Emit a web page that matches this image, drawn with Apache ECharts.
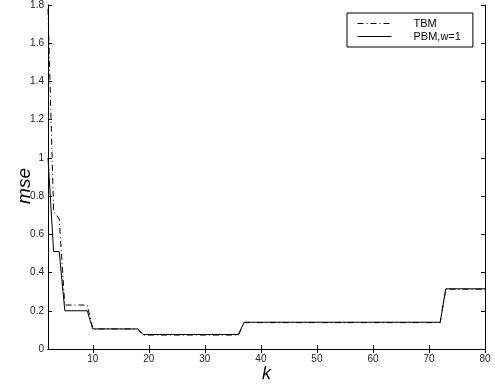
<!DOCTYPE html>
<html>
<head>
<meta charset="utf-8">
<script src="https://cdn.jsdelivr.net/npm/echarts@6/dist/echarts.min.js"></script>
<style>
  html, body { margin: 0; padding: 0; background: #fff; }
  #chart { width: 495px; height: 385px; }
</style>
</head>
<body>
<div id="chart"></div>
<script>
// breakpoints of k where the curves change level
const kValues = [2, 3, 4, 5, 9, 10, 18, 19, 36, 37, 72, 73, 80];
const tbmValues = [1.78, 0.72, 0.68, 0.23, 0.23, 0.105, 0.105, 0.073, 0.073, 0.138, 0.138, 0.313, 0.313];
const pbmValues = [1.0, 0.51, 0.51, 0.2, 0.2, 0.105, 0.105, 0.076, 0.076, 0.14, 0.14, 0.315, 0.315];
const xTicks = [10, 20, 30, 40, 50, 60, 70, 80];

const chart = echarts.init(document.getElementById('chart'));

const pairs = (ys) => kValues.map((k, i) => [k, ys[i]]);

const axisFont = { color: '#222', fontSize: 10, fontFamily: 'Liberation Sans, Arial, sans-serif' };
const tickStyle = { show: true, inside: true, length: 4, lineStyle: { color: '#000' } };

const option = {
  animation: false,
  backgroundColor: '#fff',
  grid: { left: 48, right: 10, top: 5, bottom: 36, outerBoundsMode: 'none', containLabel: false },
  legend: {
    left: 347,
    top: 13,
    orient: 'vertical',
    backgroundColor: '#fff',
    borderColor: '#000',
    borderWidth: 1,
    borderRadius: 0,
    padding: [5, 12, 5, 10],
    itemWidth: 34,
    itemHeight: 12,
    itemGap: 2,
    itemStyle: { opacity: 0 },
    lineStyle: { width: 1 },
    textStyle: {
      color: '#000',
      fontSize: 11,
      fontFamily: 'Liberation Sans, Arial, sans-serif',
      padding: [0, 0, 0, 17]
    },
    data: ['TBM', 'PBM,w=1']
  },
  xAxis: [
    {
      type: 'value',
      min: 2,
      max: 80,
      name: 'k',
      nameLocation: 'middle',
      nameGap: 16,
      nameMoveOverlap: false,
      nameTextStyle: { fontSize: 18, fontStyle: 'italic', color: '#000', fontFamily: 'Liberation Sans, Arial, sans-serif' },
      axisLine: { lineStyle: { color: '#000' } },
      axisTick: Object.assign({ customValues: xTicks }, tickStyle),
      axisLabel: Object.assign({ customValues: xTicks, margin: 5 }, axisFont),
      splitLine: { show: false }
    },
    {
      type: 'value',
      position: 'top',
      min: 2,
      max: 80,
      axisLine: { show: true, lineStyle: { color: '#000' } },
      axisTick: Object.assign({ customValues: xTicks }, tickStyle),
      axisLabel: { show: false },
      splitLine: { show: false }
    }
  ],
  yAxis: [
    {
      type: 'value',
      min: 0,
      max: 1.8,
      interval: 0.2,
      name: 'mse',
      nameLocation: 'middle',
      nameGap: 14,
      nameMoveOverlap: false,
      nameTextStyle: {
        fontSize: 19, fontStyle: 'italic', color: '#000',
        fontFamily: 'Liberation Sans, Arial, sans-serif',
        padding: [0, 18, 0, 0]
      },
      axisLine: { show: true, lineStyle: { color: '#000' } },
      axisTick: tickStyle,
      axisLabel: Object.assign({ margin: 4, formatter: (v) => String(+v.toFixed(1)) }, axisFont),
      splitLine: { show: false }
    },
    {
      type: 'value',
      position: 'right',
      min: 0,
      max: 1.8,
      interval: 0.2,
      axisLine: { show: true, lineStyle: { color: '#000' } },
      axisTick: tickStyle,
      axisLabel: { show: false },
      splitLine: { show: false }
    }
  ],
  series: [
    {
      name: 'TBM',
      type: 'line',
      symbol: 'none',
      data: pairs(tbmValues),
      lineStyle: { color: '#000', width: 1, type: [6, 3, 1, 3] },
      itemStyle: { color: '#000' }
    },
    {
      name: 'PBM,w=1',
      type: 'line',
      symbol: 'none',
      data: pairs(pbmValues),
      lineStyle: { color: '#000', width: 1, type: 'solid' },
      itemStyle: { color: '#000' }
    }
  ]
};

chart.setOption(option);
</script>
</body>
</html>
